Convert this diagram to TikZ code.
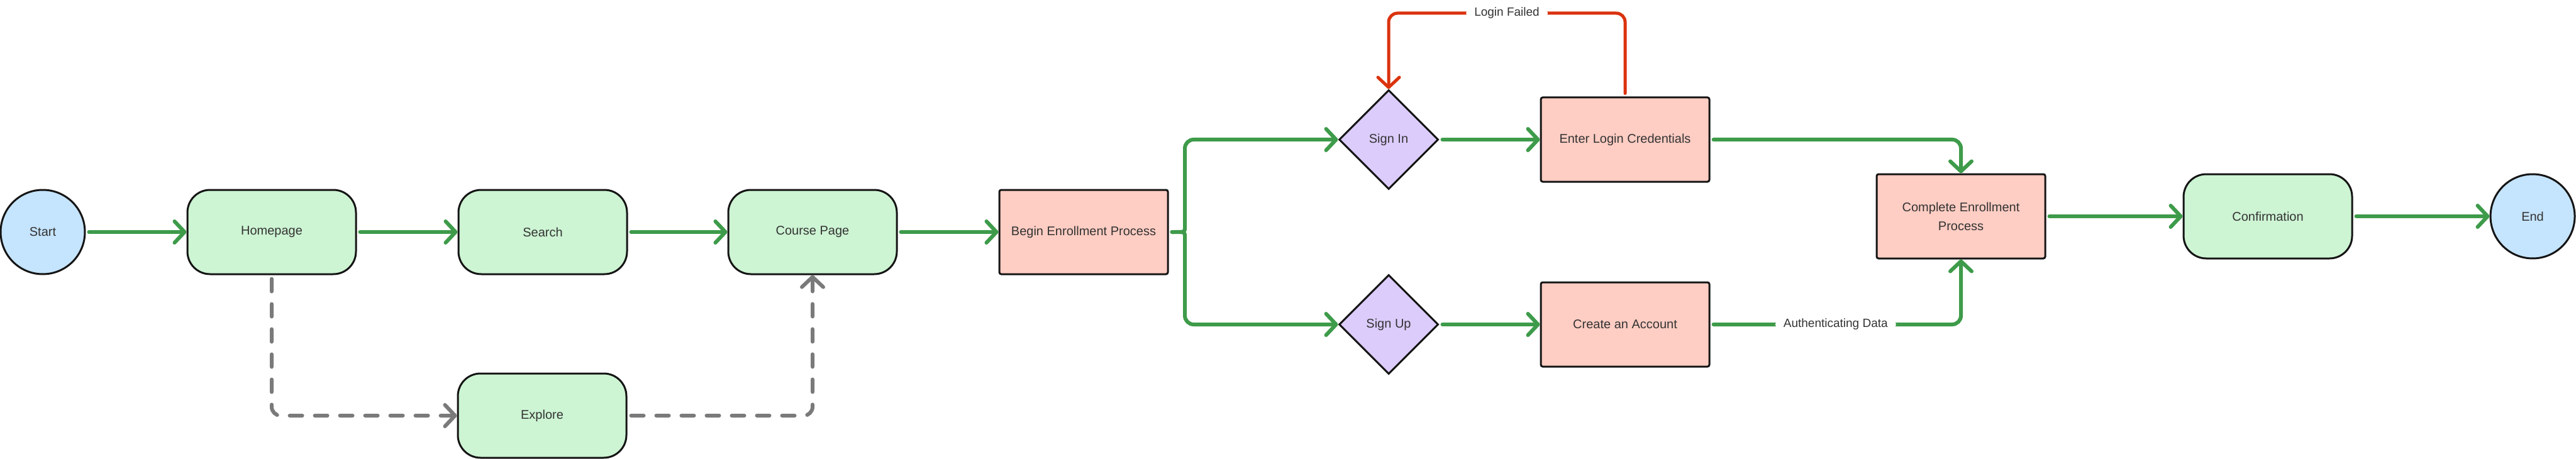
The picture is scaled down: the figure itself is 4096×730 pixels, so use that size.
\documentclass[tikz,border=0pt]{standalone}
\usepackage{fontspec}
\setmainfont{Liberation Sans}
\usetikzlibrary{arrows.meta,shapes.geometric}
\definecolor{termblue}{HTML}{C5E4FD}
\definecolor{pagegreen}{HTML}{CDF4D3}
\definecolor{procred}{HTML}{FECDC3}
\definecolor{choicepurple}{HTML}{DCCCFC}
\definecolor{flowgreen}{HTML}{3E9B4A}
\definecolor{altgray}{HTML}{7A7A7A}
\definecolor{failred}{HTML}{DA330E}
\definecolor{textgray}{HTML}{333333}
\definecolor{edgeblack}{HTML}{151515}
\begin{document}
\begin{tikzpicture}[x=1pt,y=-1pt,
  base/.style={draw=edgeblack, line width=3pt, text=textgray, font=\fontsize{20}{24}\selectfont, align=center, inner sep=0pt},
  term/.style={base, ellipse, fill=termblue, minimum width=134pt, minimum height=134pt},
  page/.style={base, rectangle, rounded corners=36pt, fill=pagegreen, minimum width=268pt, minimum height=134pt},
  proc/.style={base, rectangle, rounded corners=3pt, fill=procred, minimum width=268pt, minimum height=134pt},
  choice/.style={base, diamond, aspect=1, fill=choicepurple, minimum width=158pt, minimum height=158pt},
  tip/.style={-{Straight Barb[length=16pt,width=34pt,round]}},
  flow/.style={draw=flowgreen, line width=6pt, line cap=round, line join=round, tip, rounded corners=14pt, shorten <=5pt},
  alt/.style={draw=altgray, line width=6pt, line cap=round, line join=round, tip, rounded corners=14pt, dash pattern=on 20pt off 20pt, shorten <=6pt},
  fail/.style={draw=failred, line width=5pt, line cap=round, line join=round, tip, rounded corners=14pt, shorten <=5pt},
  lbl/.style={fill=white, text=textgray, font=\fontsize{19}{23}\selectfont, inner xsep=13pt, inner ysep=3pt}
]
\useasboundingbox (0,0) rectangle (4096,730);

\node[term] (start) at (68,369) {Start};
\node[page] (home) at (432,369) {Homepage};
\node[page] (search) at (863,369) {Search};
\node[page] (course) at (1292,369) {Course Page};
\node[proc] (begin) at (1723,369) {Begin Enrollment Process};
\node[page] (explore) at (862,661) {Explore};
\node[choice] (signin) at (2208,222) {Sign In};
\node[choice] (signup) at (2208,516) {Sign Up};
\node[proc] (login) at (2584,222) {Enter Login Credentials};
\node[proc] (create) at (2584,516) {Create an Account};
\node[proc, font=\fontsize{20}{30}\selectfont] (complete) at (3118,344) {Complete Enrollment\\Process};
\node[page] (confirm) at (3606,344) {Confirmation};
\node[term] (end) at (4027,344) {End};
\coordinate (failtop) at (2400,21);
\coordinate (brace) at (1884,369);

\draw[flow] (start) -- (home);
\draw[flow] (home) -- (search);
\draw[flow] (search) -- (course);
\draw[flow] (course) -- (begin);
\draw[flow] (begin.east) .. controls (brace) .. ([yshift=20pt]brace) -- (brace |- signin.west) -- (signin.west);
\draw[flow] (begin.east) .. controls (brace) .. ([yshift=-20pt]brace) -- (brace |- signup.west) -- (signup.west);
\draw[flow] (signin) -- (login);
\draw[flow] (signup) -- (create);
\draw[flow] (login.east) -- (login.east -| complete.north) -- (complete.north);
\draw[flow] (create.east) -- node[lbl] {Authenticating Data} (create.east -| complete.south) -- (complete.south);
\draw[flow] (complete) -- (confirm);
\draw[flow] (confirm) -- (end);

\draw[fail] (login.north) -- (login.north |- failtop) -- node[lbl] {Login Failed} (signin.north |- failtop) -- (signin.north);

\draw[alt] (home.south) -- (home.south |- explore.west) -- (explore.west);
\draw[alt] (explore.east) -- (explore.east -| course.south) -- (course.south);
\end{tikzpicture}
\end{document}
